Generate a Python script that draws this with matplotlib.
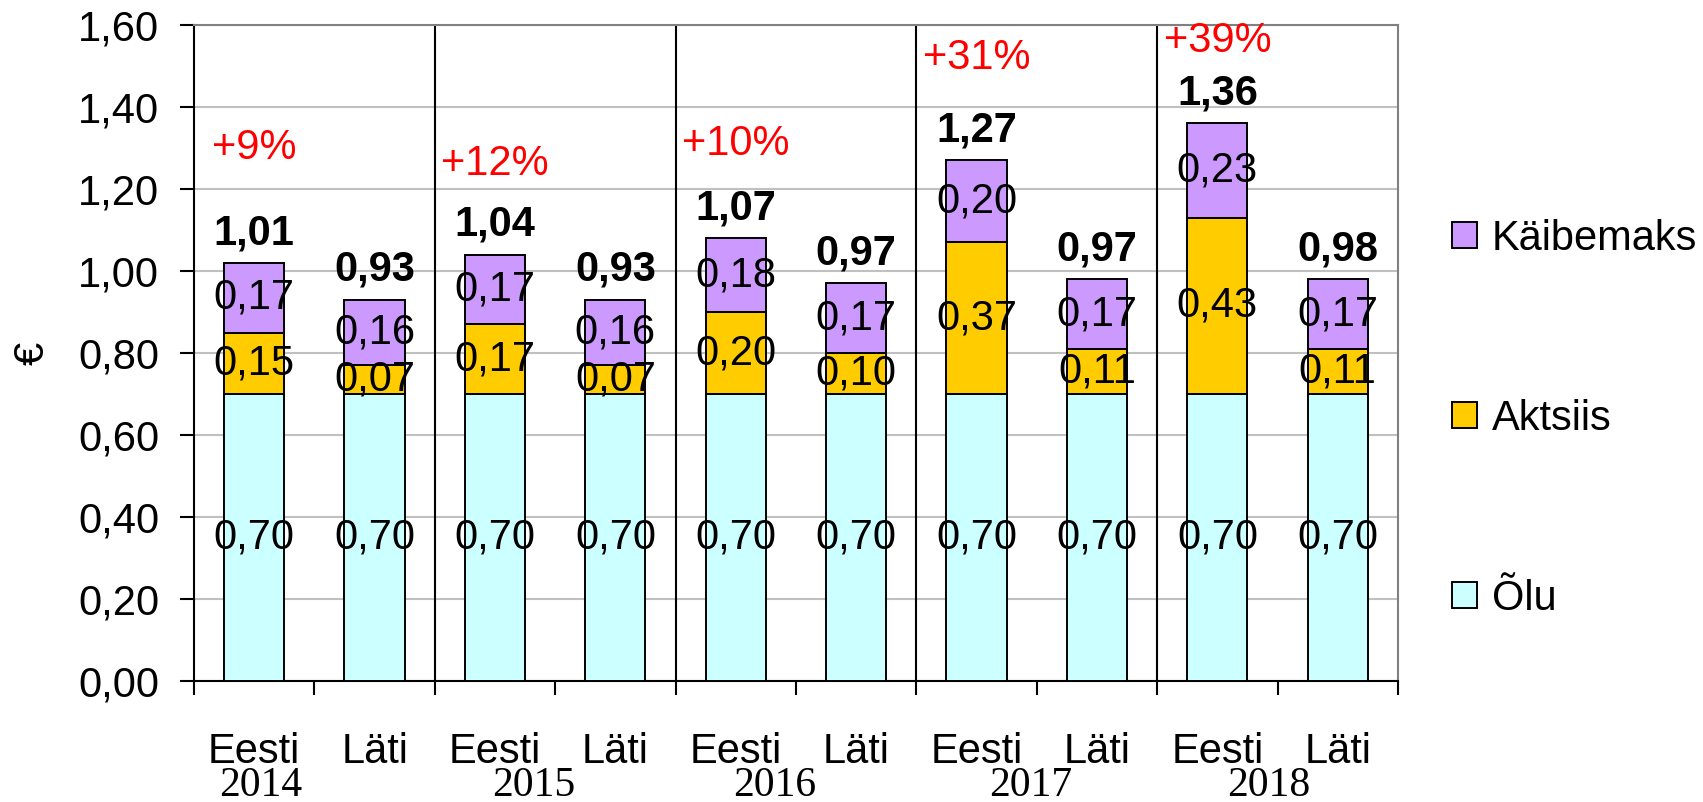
import numpy as np
import matplotlib.pyplot as plt
from matplotlib.patches import Patch
from matplotlib.ticker import FuncFormatter
import matplotlib.transforms as mtransforms

plt.rcParams['font.family'] = ['Liberation Sans', 'DejaVu Sans']
plt.rcParams['font.size'] = 30

# andmed
riigid = ['Eesti', 'Läti'] * 5
aastad = ['2014', '2015', '2016', '2017', '2018']
olu = [0.70, 0.70, 0.70, 0.70, 0.70, 0.70, 0.70, 0.70, 0.70, 0.70]
aktsiis = [0.15, 0.07, 0.17, 0.07, 0.20, 0.10, 0.37, 0.11, 0.43, 0.11]
kaibemaks = [0.17, 0.16, 0.17, 0.16, 0.18, 0.17, 0.20, 0.17, 0.23, 0.17]
kokku = [1.01, 0.93, 1.04, 0.93, 1.07, 0.97, 1.27, 0.97, 1.36, 0.98]
kasv = ['+9%', '+12%', '+10%', '+31%', '+39%']
kasv_y = [1.30, 1.26, 1.31, 1.52, 1.56]
aasta_nihe = [0.05, 0.32, 0.32, 0.45, 0.43]

varvid = {'Õlu': '#CCFFFF', 'Aktsiis': '#FFCC00', 'Käibemaks': '#CC99FF'}


def koma(v, pos=None):
    return f'{v:.2f}'.replace('.', ',')


fig = plt.figure(figsize=(17.03, 8.02), dpi=100)
ax = fig.add_axes([0.1139, 0.1509, 0.7070, 0.8179])

x = np.arange(len(riigid))
olu = np.array(olu)
aktsiis = np.array(aktsiis)
kaibemaks = np.array(kaibemaks)

lw = 1.4
ax.bar(x, olu, 0.5, color=varvid['Õlu'], edgecolor='black', linewidth=lw, zorder=3)
ax.bar(x, aktsiis, 0.5, bottom=olu, color=varvid['Aktsiis'], edgecolor='black', linewidth=lw, zorder=3)
ax.bar(x, kaibemaks, 0.5, bottom=olu + aktsiis, color=varvid['Käibemaks'], edgecolor='black', linewidth=lw, zorder=3)

# väärtused segmentide sees
for i in range(len(x)):
    ax.text(x[i], olu[i] / 2, koma(olu[i]), ha='center', va='center', zorder=4)
    ax.text(x[i], olu[i] + aktsiis[i] / 2, koma(aktsiis[i]), ha='center', va='center', zorder=4)
    ax.text(x[i], olu[i] + aktsiis[i] + kaibemaks[i] / 2, koma(kaibemaks[i]), ha='center', va='center', zorder=4)
    ax.annotate(koma(kokku[i]), (x[i], olu[i] + aktsiis[i] + kaibemaks[i]),
                xytext=(0, 7), textcoords='offset points', ha='center', va='bottom',
                fontweight='bold', zorder=4)

for g in range(5):
    ax.text(x[2 * g], kasv_y[g], kasv[g], color='red', ha='center', va='center', zorder=4)

# gruppide eraldusjooned
ax.vlines([1.5, 3.5, 5.5, 7.5], 0, 1.6, color='black', linewidth=1.5, zorder=2)

ax.set_xlim(-0.5, 9.5)
ax.set_ylim(0, 1.6)
ax.set_yticks(np.arange(0, 1.61, 0.2))
ax.yaxis.set_major_formatter(FuncFormatter(koma))
ax.yaxis.grid(True, color='#C0C0C0', linewidth=1.5, zorder=0)
ax.tick_params(axis='y', direction='out', length=10, width=1.5, pad=15)

ax.set_xticks(np.arange(-0.5, 9.6, 1.0))
ax.set_xticklabels([])
ax.tick_params(axis='x', which='major', direction='out', length=10, width=1.5)
ax.set_xticks(x, minor=True)
ax.set_xticklabels(riigid, minor=True)
ax.tick_params(axis='x', which='minor', length=0, pad=37)

trans = mtransforms.blended_transform_factory(ax.transData, ax.transAxes)
for g in range(5):
    ax.text(x[2 * g] + aasta_nihe[g], -0.176, aastad[g], transform=trans,
            ha='center', va='baseline', family=['Liberation Serif', 'DejaVu Serif'])

for s in ['left', 'bottom']:
    ax.spines[s].set_linewidth(1.5)
    ax.spines[s].set_color('black')
for s in ['top', 'right']:
    ax.spines[s].set_linewidth(1.5)
    ax.spines[s].set_color('#808080')

ax.set_ylabel('€', labelpad=18)

kasitsejad = [Patch(facecolor=varvid[k], edgecolor='black', linewidth=1.4)
              for k in ['Käibemaks', 'Aktsiis', 'Õlu']]
fig.legend(kasitsejad, ['Käibemaks', 'Aktsiis', 'Õlu'], loc='center left',
           bbox_to_anchor=(0.8526, 0.478), frameon=False, borderpad=0,
           borderaxespad=0, handlelength=0.6, handleheight=0.6,
           handletextpad=0.35, labelspacing=3.36)

fig.savefig('out.png', dpi=100)
